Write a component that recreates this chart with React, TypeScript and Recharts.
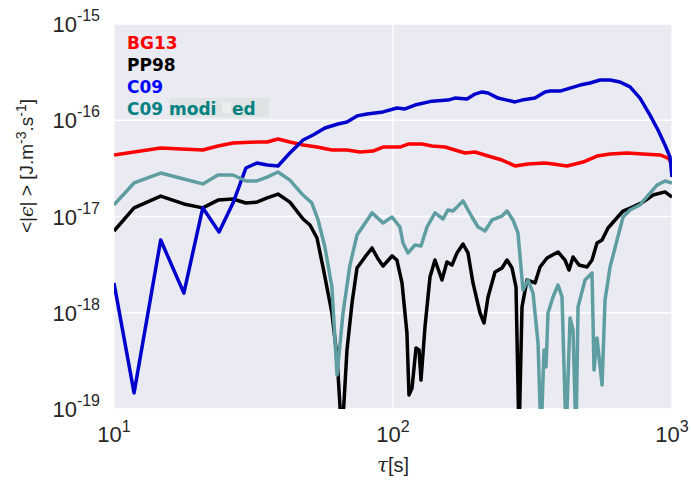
import React from "react";
import { LineChart, Line, XAxis, YAxis, CartesianGrid } from "recharts";

// tau [s] / <|eps|> [J.m-3.s-1]
const bg13Tau = [10, 14.7, 20.8, 23.6, 26.7, 32.8, 35.4, 38.7, 42.7, 47.6, 53.4, 60.4, 68.4, 76.2, 84.8, 92.1, 105.9, 113.2, 127, 138, 153.6, 166.8, 181.2, 196.7, 219.1, 245.9, 273.7, 304.7, 350.6, 374.6, 420.5, 479.8, 538.6, 599.8, 690, 787.2, 905.7, 967.6, 1000];
const bg13 = [4.36e-17, 5.15e-17, 4.91e-17, 5.4e-17, 5.8e-17, 5.94e-17, 5.94e-17, 6.39e-17, 5.94e-17, 5.53e-17, 5.27e-17, 4.91e-17, 4.91e-17, 4.68e-17, 4.79e-17, 5.27e-17, 5.27e-17, 5.66e-17, 5.66e-17, 5.4e-17, 5.27e-17, 4.91e-17, 4.57e-17, 4.68e-17, 4.25e-17, 3.86e-17, 3.35e-17, 3.51e-17, 3.59e-17, 3.51e-17, 3.35e-17, 3.68e-17, 4.25e-17, 4.46e-17, 4.57e-17, 4.46e-17, 4.36e-17, 4.05e-17, 3.59e-17];

const pp98Tau = [10, 11.8, 14.7, 17.8, 20.8, 23.6, 26.7, 29.7, 32.5, 35.4, 38.7, 42.7, 47.6, 50.4, 53.4, 56.1, 60.4, 63, 65.6, 68.4, 71.3, 74.3, 79.4, 84.1, 88.4, 92.1, 99.2, 103.3, 107.7, 112.2, 114.1, 117, 120.9, 124, 126, 130.2, 135.7, 141.4, 149.8, 156.1, 162.7, 169.6, 178.2, 185.7, 193.5, 205.1, 212, 219.1, 232.1, 245.9, 256.3, 267, 276, 282.9, 290, 302.2, 322.9, 336.5, 356.5, 390.4, 413.6, 427.5, 441.9, 464.2, 495.9, 516.8, 538.6, 561.4, 589.9, 625, 667.6, 725, 787.2, 855, 943.8, 1000];
const pp98 = [7.07e-18, 1.23e-17, 1.63e-17, 1.35e-17, 1.23e-17, 1.48e-17, 1.52e-17, 1.38e-17, 1.41e-17, 1.56e-17, 1.71e-17, 1.41e-17, 9.42e-18, 8.16e-18, 5.98e-18, 2.99e-18, 9.94e-19, 3.47e-19, 5e-20, 4.1e-19, 1.26e-18, 2.92e-18, 3.8e-18, 4.71e-18, 3.62e-18, 3.06e-18, 3.89e-18, 3.53e-18, 2.04e-18, 6.16e-19, 1.4e-19, 1.65e-19, 4.3e-19, 4.1e-19, 2e-19, 7.11e-19, 2.35e-18, 3.53e-18, 2.19e-18, 3.37e-18, 3.13e-18, 4.18e-18, 5.18e-18, 4.18e-18, 2.04e-18, 9.94e-19, 7.83e-19, 1.46e-18, 2.65e-18, 2.92e-18, 3.53e-18, 2.92e-18, 1.85e-18, 5e-20, 1.15e-18, 2.19e-18, 2.04e-18, 2.99e-18, 3.71e-18, 4.28e-18, 3.53e-18, 2.78e-18, 3.8e-18, 3.13e-18, 2.99e-18, 3.53e-18, 5.3e-18, 5.7e-18, 7.6e-18, 9.2e-18, 1.14e-17, 1.26e-17, 1.41e-17, 1.67e-17, 1.8e-17, 1.59e-17];

const c09Tau = [10, 11.8, 14.7, 17.8, 20.8, 23.8, 26.7, 29.7, 32.5, 35.4, 38.7, 42.7, 47.6, 51.7, 57, 63.5, 68.4, 74.3, 80.7, 86.2, 92.1, 103.3, 110.4, 119.9, 138, 157.4, 166.8, 184.2, 196.7, 208.5, 219.1, 237.9, 256.3, 273.7, 290, 322.9, 350.6, 365.4, 396.9, 431.1, 468.1, 508.3, 552.1, 599.8, 651.3, 707.3, 767.9, 834, 891, 943.8, 983.6, 1000];
const c09 = [2.04e-18, 1.47e-19, 5.7e-18, 1.6e-18, 1.23e-17, 6.9e-18, 1.38e-17, 3.19e-17, 3.59e-17, 3.43e-17, 3.35e-17, 4.57e-17, 6.23e-17, 7.03e-17, 8.31e-17, 9.14e-17, 9.59e-17, 1.11e-16, 1.16e-16, 1.19e-16, 1.22e-16, 1.34e-16, 1.31e-16, 1.44e-16, 1.58e-16, 1.62e-16, 1.7e-16, 1.66e-16, 1.87e-16, 1.97e-16, 1.92e-16, 1.7e-16, 1.62e-16, 1.55e-16, 1.62e-16, 1.7e-16, 1.97e-16, 2.01e-16, 2.01e-16, 2.16e-16, 2.32e-16, 2.44e-16, 2.62e-16, 2.62e-16, 2.5e-16, 2.22e-16, 1.7e-16, 1.13e-16, 7.92e-17, 5.53e-17, 4.15e-17, 2.57e-17];

const c09modTau = [10, 11.8, 14.7, 17.8, 20.8, 23.6, 26.7, 29.7, 32.5, 35.4, 38.7, 42.7, 47.6, 51.2, 53.9, 57, 60.4, 63, 66.2, 70.1, 74.3, 84.1, 92.1, 99.2, 105.9, 108.6, 113.2, 119.9, 126, 132.4, 141.4, 151.1, 157.4, 164.1, 178.2, 191.9, 201.7, 213.7, 226.4, 245.9, 256.3, 269.2, 280.5, 292.4, 304.7, 317.6, 331, 339.3, 347.7, 353.6, 359.4, 374.6, 390.4, 403.5, 417.1, 431.1, 441.9, 452.9, 460.5, 487.8, 516.8, 525.4, 538.6, 561.4, 575.4, 599.8, 635.4, 667.6, 707.3, 767.9, 834, 883.6, 943.8, 1000];
const c09mod = [1.32e-17, 2.23e-17, 2.83e-17, 2.45e-17, 2.18e-17, 2.7e-17, 2.7e-17, 2.34e-17, 2.34e-17, 2.57e-17, 2.9e-17, 2.39e-17, 1.67e-17, 1.38e-17, 9.2e-18, 4.82e-18, 1.85e-18, 2.26e-19, 9.94e-19, 3.13e-18, 6.42e-18, 1.09e-17, 8.56e-18, 9.88e-18, 7.78e-18, 5.3e-18, 4.18e-18, 5.06e-18, 4.94e-18, 7.78e-18, 1.09e-17, 9.42e-18, 1.17e-17, 1.14e-17, 1.45e-17, 9.88e-18, 7.78e-18, 7.07e-18, 9.2e-18, 1.01e-17, 1.14e-17, 9.2e-18, 6.74e-18, 1.72e-18, 2.19e-18, 1.6e-18, 4.85e-19, 5e-20, 4.1e-19, 2.73e-19, 9.94e-19, 1.46e-18, 1.94e-18, 1.46e-18, 5e-20, 8.82e-19, 6.62e-19, 5e-20, 1.15e-18, 2.19e-18, 2.59e-18, 2.54e-19, 5.47e-19, 1.78e-19, 1.36e-18, 2.99e-18, 5.7e-18, 9.88e-18, 1.17e-17, 1.32e-17, 1.75e-17, 2.12e-17, 2.34e-17, 2.23e-17];

const xTicks = [10, 100, 1000];
const yTicks = [1e-19, 1e-18, 1e-17, 1e-16, 1e-15];

const toPoints = (taus: number[], vals: number[]) =>
  taus.map((tau, i) => ({ tau, v: vals[i] }));

const series = [
  { name: "BG13", data: toPoints(bg13Tau, bg13), color: "#FF0000" },
  { name: "PP98", data: toPoints(pp98Tau, pp98), color: "#000000" },
  { name: "C09", data: toPoints(c09Tau, c09), color: "#0000CD" },
  { name: "C09 modified", data: toPoints(c09modTau, c09mod), color: "#5F9EA0" },
];

const FONT = "Liberation Sans, Arial, sans-serif";
const INK = "#262626";

function XTick({ x, y, payload }: any) {
  const exp = Math.round(Math.log10(payload.value));
  return (
    <text x={x} y={y + 33} textAnchor="middle" fill={INK} fontFamily={FONT} fontSize={22}>
      10<tspan dy={-10} fontSize={16}>{exp}</tspan>
    </text>
  );
}

function YTick({ x, y, payload }: any) {
  const exp = Math.round(Math.log10(payload.value));
  return (
    <text x={x} y={y + 8} textAnchor="end" fill={INK} fontFamily={FONT} fontSize={22}>
      10<tspan dy={-11} fontSize={16}>{exp}</tspan>
    </text>
  );
}

export default function App() {
  return (
    <div style={{ position: "absolute", left: 0, top: 0, width: 691, height: 484, background: "#fff" }}>
      <LineChart width={691} height={484} margin={{ top: 24, right: 19, bottom: 0, left: 0 }}>
        <CartesianGrid fill="#EAEAF2" fillOpacity={1} stroke="#FFFFFF" strokeWidth={1.3} />
        <XAxis
          type="number"
          dataKey="tau"
          scale="log"
          domain={[10, 1000]}
          ticks={xTicks}
          allowDataOverflow
          axisLine={false}
          tickLine={false}
          tickSize={0}
          tickMargin={0}
          height={75}
          tick={<XTick />}
        />
        <YAxis
          type="number"
          scale="log"
          domain={[1e-19, 1e-15]}
          ticks={yTicks}
          allowDataOverflow
          axisLine={false}
          tickLine={false}
          tickSize={0}
          tickMargin={14}
          width={114}
          tick={<YTick />}
        />
        {series.map((s) => (
          <Line
            key={s.name}
            data={s.data}
            dataKey="v"
            type="linear"
            stroke={s.color}
            strokeWidth={3.5}
            strokeLinejoin="round"
            dot={false}
            activeDot={false}
            isAnimationActive={false}
          />
        ))}
      </LineChart>

      <svg width={691} height={484} style={{ position: "absolute", left: 0, top: 0, pointerEvents: "none" }}>
        {/* legend */}
        <g fontFamily="DejaVu Sans, sans-serif" fontWeight="bold" fontSize={17}>
          <text x={127} y={49} fill="#FF0000">BG13</text>
          <text x={127} y={71} fill="#000000">PP98</text>
          <text x={127} y={93} fill="#0000FF">C09</text>
          <rect x={169} y={98} width={100} height={19} fill="#DEE4E3" />
          <rect x={222} y={102} width={9} height={11} fill="#E9EEEE" />
          <text x={127} y={115} fill="#008080">C09 modi</text>
          <text x={232} y={115} fill="#008080">ed</text>
        </g>

        {/* axis titles */}
        <text x={393} y={472} textAnchor="middle" fill={INK} fontFamily={FONT} fontSize={20}>
          <tspan fontFamily="DejaVu Serif, serif" fontStyle="italic">τ</tspan>[s]
        </text>
        <text
          transform="translate(33,166) rotate(-90)"
          textAnchor="middle"
          fill={INK}
          fontFamily={FONT}
          fontSize={19}
        >
          &lt;|<tspan fontFamily="DejaVu Serif, serif" fontStyle="italic">ϵ</tspan>| &gt; [J.m
          <tspan dy={-7} fontSize={14}>-3</tspan>
          <tspan dy={7}>.s</tspan>
          <tspan dy={-7} fontSize={14}>-1</tspan>
          <tspan dy={7}>]</tspan>
        </text>
      </svg>
    </div>
  );
}
